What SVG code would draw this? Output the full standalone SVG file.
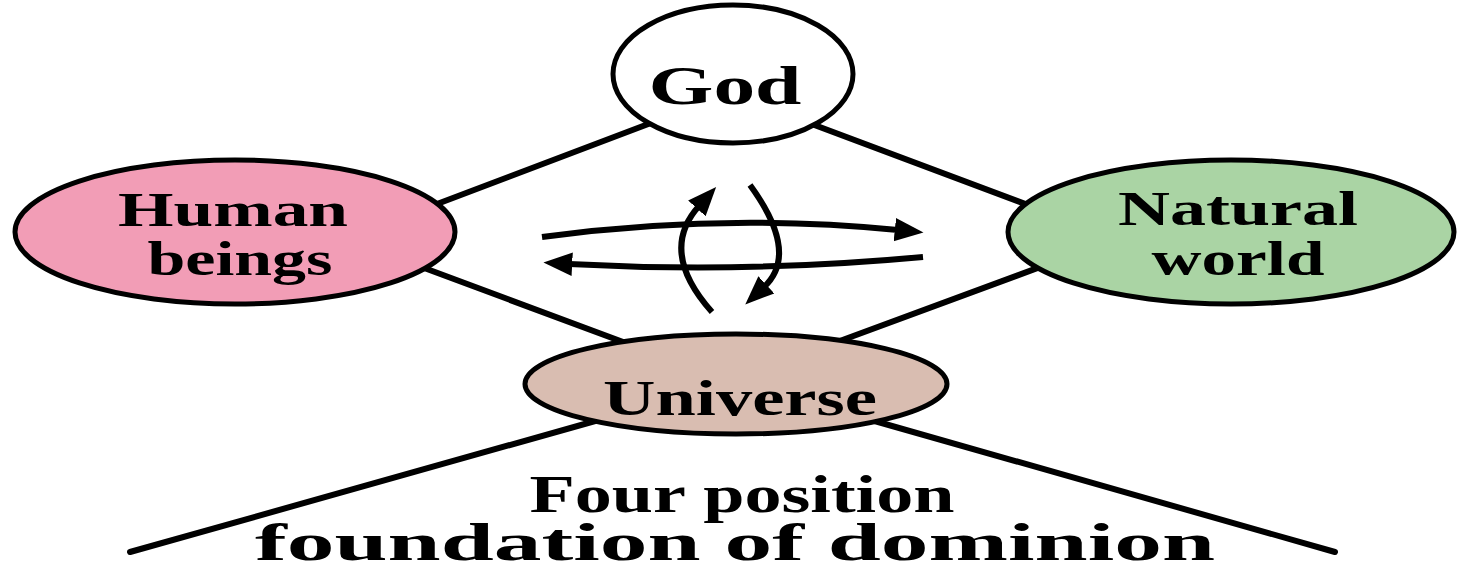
<svg xmlns="http://www.w3.org/2000/svg" width="1457" height="574" viewBox="0 0 1457 574">
<style>
.bg{fill:#ffffff}
.conn{stroke:#000;stroke-width:6;fill:none;stroke-linecap:round}
.arr{stroke:#000;stroke-width:6;fill:none}
.node{stroke:#000;stroke-width:5}
.lbl{font-family:"Liberation Serif","Times New Roman",serif;font-weight:bold;fill:#000;text-anchor:middle}
</style>
<defs>
<marker id="ah" markerUnits="userSpaceOnUse" markerWidth="32" markerHeight="32" refX="0" refY="0" viewBox="-3 -13 30 26" orient="auto">
<path d="M-3,-11 L24,0 L-3,11 z" fill="#000"/>
</marker>
</defs>
<rect class="bg" x="0" y="0" width="1457" height="574"/>
<g id="connectors">
<line class="conn" x1="400" y1="218" x2="680" y2="112"/>
<line class="conn" x1="785" y1="114" x2="1060" y2="217"/>
<line class="conn" x1="400" y1="259" x2="650" y2="352"/>
<line class="conn" x1="1070" y1="256" x2="810" y2="352"/>
<line class="conn" x1="130" y1="552" x2="620" y2="414"/>
<line class="conn" x1="1335" y1="552" x2="850" y2="414"/>
<path class="arr" d="M542,237 Q721,212.5 898,230" marker-end="url(#ah)"/>
<path class="arr" d="M923,257 Q745,273.5 569,264" marker-end="url(#ah)"/>
<path class="arr" d="M712,312 Q658,251.5 699,206" marker-end="url(#ah)"/>
<path class="arr" d="M750,185 Q800,253.5 764,287" marker-end="url(#ah)"/>
</g>
<g id="god">
<ellipse class="node" cx="733" cy="74" rx="120" ry="69" fill="#ffffff"/>
<text class="lbl" x="725" y="104" font-size="55" textLength="153" lengthAdjust="spacingAndGlyphs">God</text>
</g>
<g id="human">
<ellipse class="node" cx="235" cy="232" rx="220" ry="72" fill="#F29DB6"/>
<text class="lbl" x="233" y="226" font-size="49" textLength="230" lengthAdjust="spacingAndGlyphs">Human</text>
<text class="lbl" x="240" y="275" font-size="49" textLength="185" lengthAdjust="spacingAndGlyphs">beings</text>
</g>
<g id="natural">
<ellipse class="node" cx="1231" cy="232" rx="223" ry="72" fill="#AAD4A4"/>
<text class="lbl" x="1238" y="225" font-size="49" textLength="240" lengthAdjust="spacingAndGlyphs">Natural</text>
<text class="lbl" x="1238" y="275" font-size="49" textLength="173" lengthAdjust="spacingAndGlyphs">world</text>
</g>
<g id="universe">
<ellipse class="node" cx="736" cy="384" rx="211" ry="50" fill="#D9BDB1"/>
<text class="lbl" x="740" y="415" font-size="50" textLength="274" lengthAdjust="spacingAndGlyphs">Universe</text>
</g>
<g id="caption">
<text class="lbl" x="742" y="512" font-size="52" textLength="425" lengthAdjust="spacingAndGlyphs">Four position</text>
<text class="lbl" x="735" y="560" font-size="52" textLength="960" lengthAdjust="spacingAndGlyphs">foundation of dominion</text>
</g>
</svg>
